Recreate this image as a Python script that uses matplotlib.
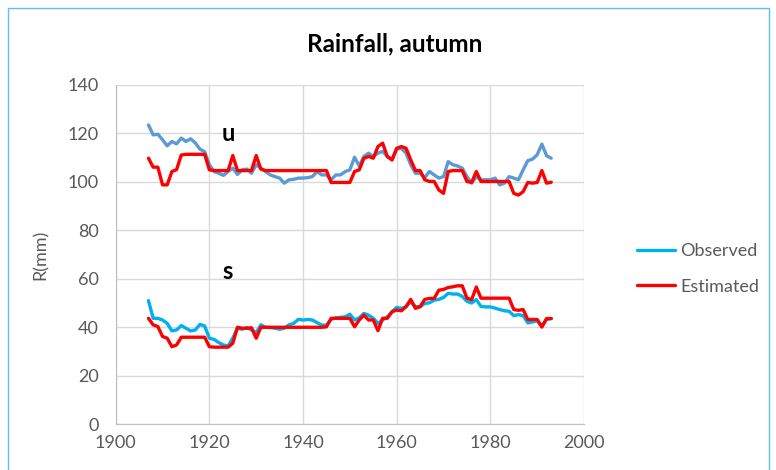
import matplotlib.pyplot as plt
from matplotlib.patches import Rectangle

years = list(range(1907, 1994))

u_obs = [123.4, 119.3, 119.6, 117.3, 114.8, 116.6, 115.6, 118.0, 116.6, 117.7,
         116.0, 113.4, 112.4, 107.0, 104.2, 103.5, 102.6, 104.2, 105.6, 103.0,
         104.9, 105.2, 103.5, 107.0, 105.6, 104.2, 102.8, 102.1, 101.5, 99.4,
         100.8, 101.0, 101.5, 101.5, 101.7, 102.1, 104.2, 102.8, 102.8, 100.8,
         102.8, 102.8, 104.2, 104.9, 110.1, 106.5, 110.4, 111.8, 110.4, 111.8,
         112.5, 110.4, 109.0, 113.4, 113.8, 111.8, 107.0, 103.5, 103.5, 101.7,
         104.2, 102.8, 101.5, 102.1, 108.3, 107.0, 106.5, 105.6, 102.1, 99.4,
         102.1, 100.8, 100.8, 100.8, 101.5, 98.7, 99.4, 102.1, 101.5, 100.8,
         104.9, 108.7, 109.3, 111.1, 115.5, 110.7, 109.7]

u_est = [109.7, 106.0, 106.0, 98.7, 98.7, 104.2, 105.0, 111.0, 111.3, 111.3,
         111.3, 111.3, 111.3, 104.9, 104.6, 104.6, 104.6, 104.6, 110.8, 104.6,
         104.6, 104.6, 104.6, 110.8, 105.2, 104.6, 104.6, 104.6, 104.6, 104.6,
         104.6, 104.6, 104.6, 104.6, 104.6, 104.6, 104.6, 104.6, 104.6, 99.7,
         99.7, 99.7, 99.7, 99.7, 104.2, 104.9, 109.7, 110.4, 109.7, 114.5,
         115.9, 110.4, 109.0, 113.8, 114.5, 113.8, 109.0, 104.6, 104.6, 100.8,
         100.1, 100.1, 96.6, 95.2, 104.2, 104.6, 104.6, 104.6, 100.1, 99.7,
         104.2, 100.1, 100.1, 100.1, 100.1, 100.1, 100.1, 100.1, 95.2, 94.5,
         95.9, 99.7, 99.4, 99.7, 104.6, 99.4, 99.8]

s_obs = [51.0, 43.7, 43.7, 43.0, 41.6, 38.5, 38.9, 40.7, 39.6, 38.5,
         38.9, 41.2, 40.5, 35.5, 35.0, 33.7, 32.7, 32.3, 35.5, 39.6,
         39.2, 39.9, 38.9, 37.8, 41.0, 40.0, 39.9, 39.6, 39.2, 39.6,
         41.0, 41.6, 43.3, 43.0, 43.2, 43.0, 41.9, 40.9, 40.9, 43.2,
         43.9, 44.1, 44.3, 45.4, 43.0, 43.9, 45.7, 45.0, 43.7, 41.6,
         43.0, 44.3, 46.4, 48.2, 47.8, 48.5, 50.5, 48.5, 48.5, 49.8,
         50.1, 51.2, 51.5, 52.3, 54.0, 53.7, 53.7, 52.7, 50.7, 50.0,
         51.4, 48.6, 48.4, 48.4, 47.9, 47.3, 46.8, 46.6, 44.8, 45.2,
         44.8, 41.8, 42.2, 42.7, 40.4, 43.2, 43.6]

s_est = [43.7, 41.0, 40.3, 36.2, 35.5, 32.0, 32.7, 35.9, 35.9, 35.9,
         35.9, 35.9, 35.9, 32.0, 31.8, 31.8, 31.8, 31.8, 33.4, 40.0,
         39.6, 39.6, 39.8, 35.5, 40.0, 40.0, 40.0, 40.0, 40.0, 40.0,
         40.0, 40.0, 40.0, 40.0, 40.0, 40.0, 40.0, 40.0, 40.2, 43.7,
         43.7, 43.7, 43.7, 43.7, 40.2, 43.0, 45.0, 43.0, 43.0, 38.6,
         43.7, 43.7, 46.4, 47.1, 46.8, 48.5, 51.5, 47.8, 48.5, 51.5,
         51.9, 51.9, 55.3, 55.6, 56.4, 56.7, 57.1, 57.1, 52.0, 51.4,
         56.6, 52.0, 52.0, 52.0, 52.0, 52.0, 52.0, 52.0, 47.3, 47.0,
         47.3, 43.2, 43.2, 43.2, 40.1, 43.6, 43.6]

grey = '#595959'
plt.rcParams['font.family'] = ['Lato', 'DejaVu Sans']

fig = plt.figure(figsize=(7.76, 4.70), dpi=100)
ax = fig.add_axes([0.1491, 0.0972, 0.6035, 0.7226])

style = dict(lw=2.4, solid_capstyle='round', solid_joinstyle='round')
ax.plot(years, u_obs, color='#5B9BD5', **style)
ax.plot(years, u_est, color='#FF0000', **style)
l1, = ax.plot(years, s_obs, color='#00B0F0', **style)
l2, = ax.plot(years, s_est, color='#FF0000', **style)

ax.text(1924, 120, 'u', fontsize=17, fontweight='bold', ha='center', va='center')
ax.text(1924, 63, 's', fontsize=17, fontweight='bold', ha='center', va='center')

ax.set_xlim(1900, 2000)
ax.set_ylim(0, 140)
ax.set_xticks(range(1900, 2001, 20))
ax.set_yticks(range(0, 141, 20))
ax.grid(True, color='#D9D9D9', lw=1)
ax.set_axisbelow(True)
for s in ['top', 'right']:
    ax.spines[s].set_visible(False)
for s in ['left', 'bottom']:
    ax.spines[s].set_color('#BFBFBF')
ax.tick_params(length=0, labelsize=13, labelcolor=grey)
ax.tick_params(axis='x', pad=8)
ax.tick_params(axis='y', pad=12)
ax.set_ylabel('R(mm)', fontsize=13, color=grey, labelpad=14)

fig.text(0.509, 0.906, 'Rainfall, autumn', fontsize=17.5, fontweight='bold',
         ha='center', va='center')

fig.legend([l1, l2], ['Observed', 'Estimated'], loc='center left',
           bbox_to_anchor=(0.80, 0.428), frameon=False, fontsize=13,
           labelcolor=grey, handlelength=2.1, handletextpad=0.3,
           labelspacing=1.1)

fig.patches.append(Rectangle((8 / 776, -0.05), 761 / 776, 1.05 - 8 / 470,
                             transform=fig.transFigure, fill=False,
                             edgecolor='#5BC0EB', lw=1))

fig.savefig('out.png', dpi=100)
